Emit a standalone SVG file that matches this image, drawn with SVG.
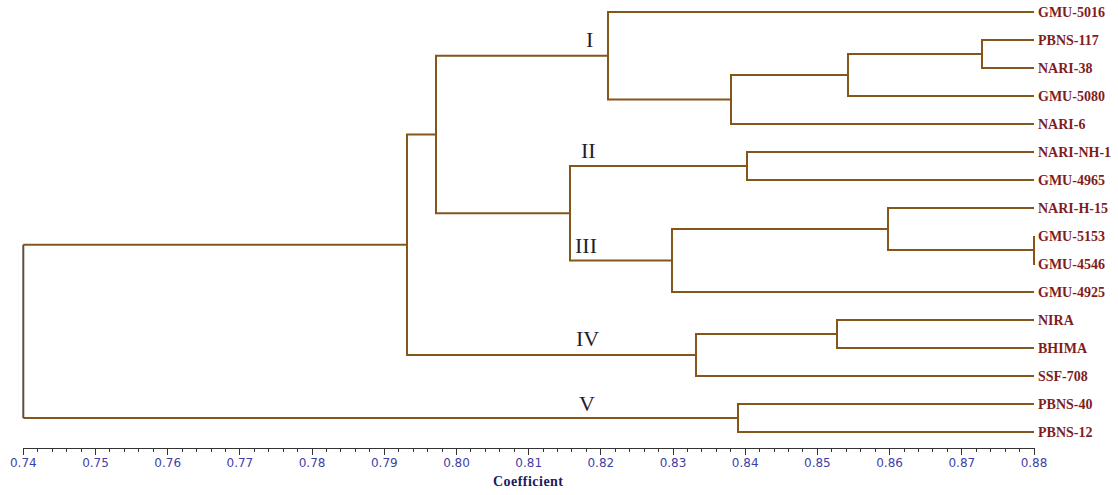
<svg xmlns="http://www.w3.org/2000/svg" width="1118" height="495" viewBox="0 0 1118 495">
  <style>
    .br { fill: none; stroke: #85561c; stroke-width: 2; }
    .root { fill: none; stroke: #5c4e3c; stroke-width: 2; }
    .leaf { font-family: "Liberation Serif", "Times New Roman", serif; font-weight: bold; font-size: 14px; fill: #7f1d1d; }
    .clu { font-family: "Liberation Serif", "Times New Roman", serif; font-size: 22px; fill: #1e1e2a; }
    .tick { fill: none; stroke: #333333; stroke-width: 1; }
    .tl { font-family: "DejaVu Sans", Verdana, sans-serif; font-size: 12px; fill: #3f3fa6; text-anchor: middle; }
    .ttl { font-family: "Liberation Serif", "Times New Roman", serif; font-weight: bold; font-size: 14px; fill: #1c1c5a; }
  </style>
  <rect width="1118" height="495" fill="#ffffff"/>

  <!-- dendrogram branches -->
  <g id="connectors">
    <path class="br" d="M1034,40 H982 V68 H1034"/>
    <path class="br" d="M982,54 H848 V96 H1034"/>
    <path class="br" d="M848,75 H731 V124 H1034"/>
    <path class="br" d="M1034,12 H608 V99.5 H731"/>
    <path class="br" d="M1034,152 H747 V180 H1034"/>
    <path class="br" d="M1034,236 V265"/>
    <path class="br" d="M1034,208 H888 V250 H1034"/>
    <path class="br" d="M888,229 H672 V292 H1034"/>
    <path class="br" d="M747,166 H570 V260.5 H672"/>
    <path class="br" d="M608,55.75 H436 V213.25 H570"/>
    <path class="br" d="M1034,320 H837 V348 H1034"/>
    <path class="br" d="M837,334 H696 V376 H1034"/>
    <path class="br" d="M436,134.5 H407 V355 H696"/>
    <path class="br" d="M1034,404 H738 V432 H1034"/>
    <path class="br" d="M407,244.75 H23.3"/>
    <path class="br" d="M23.3,418 H738"/>
    <path class="root" d="M23.3,244.75 V418"/>
  </g>

  <!-- leaves -->
  <g id="leaf-gmu-5016"><text class="leaf" x="1038" y="16.7">GMU-5016</text></g>
  <g id="leaf-pbns-117"><text class="leaf" x="1038" y="44.7">PBNS-117</text></g>
  <g id="leaf-nari-38"><text class="leaf" x="1038" y="72.7">NARI-38</text></g>
  <g id="leaf-gmu-5080"><text class="leaf" x="1038" y="100.7">GMU-5080</text></g>
  <g id="leaf-nari-6"><text class="leaf" x="1038" y="128.7">NARI-6</text></g>
  <g id="leaf-nari-nh-1"><text class="leaf" x="1038" y="156.7">NARI-NH-1</text></g>
  <g id="leaf-gmu-4965"><text class="leaf" x="1038" y="184.7">GMU-4965</text></g>
  <g id="leaf-nari-h-15"><text class="leaf" x="1038" y="212.7">NARI-H-15</text></g>
  <g id="leaf-gmu-5153"><text class="leaf" x="1038" y="240.7">GMU-5153</text></g>
  <g id="leaf-gmu-4546"><text class="leaf" x="1038" y="268.7">GMU-4546</text></g>
  <g id="leaf-gmu-4925"><text class="leaf" x="1038" y="296.7">GMU-4925</text></g>
  <g id="leaf-nira"><text class="leaf" x="1038" y="324.7">NIRA</text></g>
  <g id="leaf-bhima"><text class="leaf" x="1038" y="352.7">BHIMA</text></g>
  <g id="leaf-ssf-708"><text class="leaf" x="1038" y="380.7">SSF-708</text></g>
  <g id="leaf-pbns-40"><text class="leaf" x="1038" y="408.7">PBNS-40</text></g>
  <g id="leaf-pbns-12"><text class="leaf" x="1038" y="436.7">PBNS-12</text></g>

  <!-- cluster numerals -->
  <g id="cluster-I"><text class="clu" x="586" y="47">I</text></g>
  <g id="cluster-II"><text class="clu" x="581" y="158">II</text></g>
  <g id="cluster-III"><text class="clu" x="575" y="253">III</text></g>
  <g id="cluster-IV"><text class="clu" x="576" y="346">IV</text></g>
  <g id="cluster-V"><text class="clu" x="579" y="411">V</text></g>

  <!-- coefficient axis -->
  <g id="axis">
    <path class="tick" d="M23,448.5 H1034.5"/>
    <path class="tick" d="M23.5,448 v7 M95.5,448 v7 M167.5,448 v7 M239.5,448 v7 M312.5,448 v7 M384.5,448 v7 M456.5,448 v7 M528.5,448 v7 M600.5,448 v7 M673.5,448 v7 M745.5,448 v7 M817.5,448 v7 M889.5,448 v7 M961.5,448 v7 M1034.5,448 v7"/>
    <path class="tick" d="M37.5,448 v4 M52.5,448 v4 M66.5,448 v4 M81.5,448 v4
      M109.5,448 v4 M124.5,448 v4 M138.5,448 v4 M153.5,448 v4
      M182.5,448 v4 M196.5,448 v4 M211.5,448 v4 M225.5,448 v4
      M254.5,448 v4 M268.5,448 v4 M283.5,448 v4 M297.5,448 v4
      M326.5,448 v4 M340.5,448 v4 M355.5,448 v4 M369.5,448 v4
      M398.5,448 v4 M413.5,448 v4 M427.5,448 v4 M442.5,448 v4
      M470.5,448 v4 M485.5,448 v4 M499.5,448 v4 M514.5,448 v4
      M543.5,448 v4 M557.5,448 v4 M571.5,448 v4 M586.5,448 v4
      M615.5,448 v4 M629.5,448 v4 M644.5,448 v4 M658.5,448 v4
      M687.5,448 v4 M701.5,448 v4 M716.5,448 v4 M730.5,448 v4
      M759.5,448 v4 M774.5,448 v4 M788.5,448 v4 M802.5,448 v4
      M831.5,448 v4 M846.5,448 v4 M860.5,448 v4 M875.5,448 v4
      M904.5,448 v4 M918.5,448 v4 M932.5,448 v4 M947.5,448 v4
      M976.5,448 v4 M990.5,448 v4 M1005.5,448 v4 M1019.5,448 v4"/>
    <text class="tl" x="23.3" y="467">0.74</text>
    <text class="tl" x="95.5" y="467">0.75</text>
    <text class="tl" x="167.7" y="467">0.76</text>
    <text class="tl" x="239.9" y="467">0.77</text>
    <text class="tl" x="312.1" y="467">0.78</text>
    <text class="tl" x="384.3" y="467">0.79</text>
    <text class="tl" x="456.5" y="467">0.80</text>
    <text class="tl" x="528.7" y="467">0.81</text>
    <text class="tl" x="600.8" y="467">0.82</text>
    <text class="tl" x="673" y="467">0.83</text>
    <text class="tl" x="745.2" y="467">0.84</text>
    <text class="tl" x="817.4" y="467">0.85</text>
    <text class="tl" x="889.6" y="467">0.86</text>
    <text class="tl" x="961.8" y="467">0.87</text>
    <text class="tl" x="1034" y="467">0.88</text>
    <text class="ttl" x="493" y="486" textLength="70" lengthAdjust="spacing">Coefficient</text>
  </g>
</svg>
